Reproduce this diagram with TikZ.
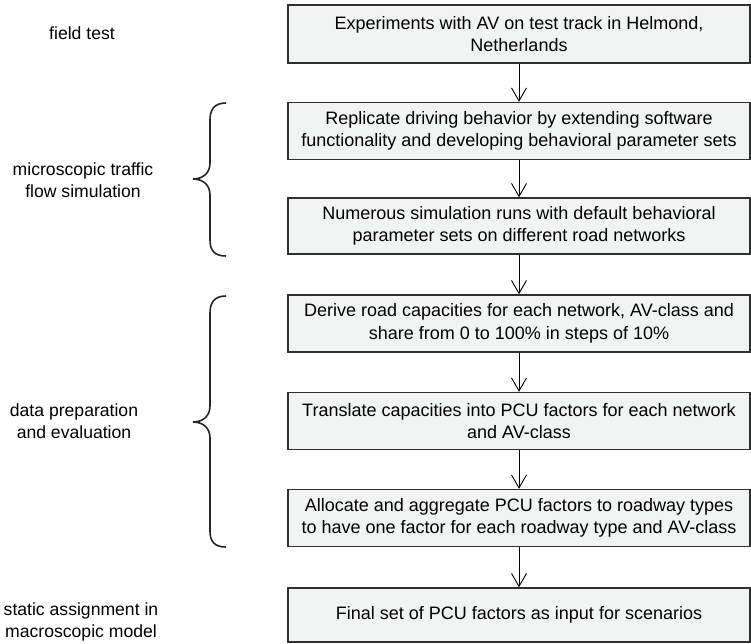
\documentclass[tikz,border=0pt]{standalone}
\usepackage{fontspec}
\setmainfont{Liberation Sans}
\usetikzlibrary{arrows.meta}
\definecolor{boxfill}{HTML}{F2F4F3}
\definecolor{boxline}{HTML}{303030}
\tikzset{
  stepbox/.style={draw=boxline, line width=1.4pt, fill=boxfill, minimum width=462pt, inner sep=0pt, align=center, font=\fontsize{18}{22.5}\selectfont},
  sidelabel/.style={align=center, font=\fontsize{17.6}{21.5}\selectfont, inner sep=0pt},
  flowarrow/.style={draw=black, line width=0.9pt, -{Straight Barb[length=13pt,width=15pt,line width=0.9pt]}},
  bracepath/.style={draw=black!85, line width=1.6pt}
}
\begin{document}
\begin{tikzpicture}[x=1pt,y=-1pt]
\useasboundingbox (0,0) rectangle (751,643);
\node[stepbox, minimum height=58pt] (b1) at (519,34) {Experiments with AV on test track in Helmond,\\Netherlands};
\node[stepbox, minimum height=57pt] (b2) at (519,131) {Replicate driving behavior by extending software\\functionality and developing behavioral parameter sets};
\node[stepbox, minimum height=56pt] (b3) at (519,226) {Numerous simulation runs with default behavioral\\parameter sets on different road networks};
\node[stepbox, minimum height=57pt] (b4) at (519,323.5) {Derive road capacities for each network, AV-class and\\share from 0 to 100\% in steps of 10\%};
\node[stepbox, minimum height=57pt] (b5) at (519,421) {Translate capacities into PCU factors for each network\\and AV-class};
\node[stepbox, minimum height=57pt] (b6) at (519,518) {Allocate and aggregate PCU factors to roadway types\\to have one factor for each roadway type and AV-class};
\node[stepbox, minimum height=54pt] (b7) at (519,615) {Final set of PCU factors as input for scenarios};

\draw[flowarrow] (b1) -- (b2);
\draw[flowarrow] (b2) -- (b3);
\draw[flowarrow] (b3) -- (b4);
\draw[flowarrow] (b4) -- (b5);
\draw[flowarrow] (b5) -- (b6);
\draw[flowarrow] (b6) -- (b7);

\node[sidelabel] (l1) at (82,33) {field test};
\node[sidelabel] (l2) at (83,180) {microscopic traffic\\flow simulation};
\node[sidelabel] (l3) at (74,421) {data preparation\\and evaluation};
\node[sidelabel] (l4) at (81,622) {static assignment in\\macroscopic model};

\draw[bracepath] (226,103) .. controls (214,103) and (210,110) .. (210,120)
  -- (210,163) .. controls (210,173) and (203,179) .. (193,179)
  .. controls (203,179) and (210,185) .. (210,195)
  -- (210,240) .. controls (210,250) and (214,256) .. (226,256);
\draw[bracepath] (226,296) .. controls (214,296) and (210,303) .. (210,313)
  -- (210,406) .. controls (210,416) and (203,422) .. (193,422)
  .. controls (203,422) and (210,428) .. (210,438)
  -- (210,531) .. controls (210,541) and (214,547) .. (226,547);
\end{tikzpicture}
\end{document}
